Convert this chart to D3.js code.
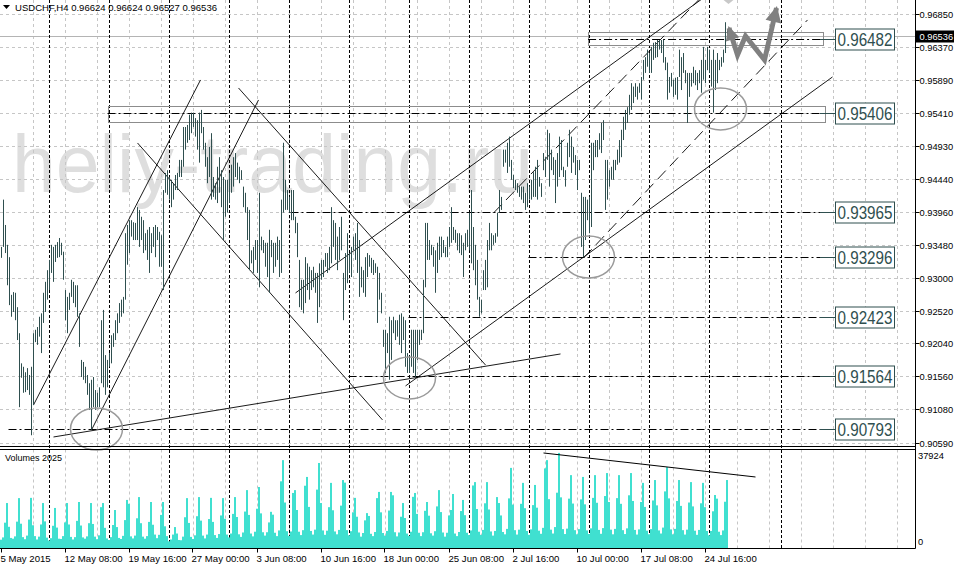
<!DOCTYPE html>
<html><head><meta charset="utf-8">
<script src="https://cdn.jsdelivr.net/npm/d3@7"></script>
<style>html,body{margin:0;padding:0;background:#fff;}svg{display:block;font-family:"Liberation Sans",Arial,sans-serif;}</style>
</head><body><svg id="c" width="954" height="568"></svg>
<script>
// ---------- DATA ----------
const symbol = "USDCHF,H4";
const lastBar = {open:0.96624, high:0.96624, low:0.96527, close:0.96536};
const bidPrice = 0.96536;
const highs = [.9345,.9414,.9377,.9348,.9330,.9275,.9279,.9278,.9257,.9219,
.9175,.9170,.9162,.9168,.9158,.9170,.9219,.9224,.9228,.9243,
.9248,.9278,.9294,.9311,.9326,.9348,.9345,.9348,.9352,.9358,
.9351,.9338,.9282,.9272,.9278,.9297,.9294,.9289,.9289,.9248,
.9180,.9177,.9170,.9158,.9146,.9151,.9155,.9136,.9132,.9140,
.9238,.9253,.9187,.9180,.9190,.9216,.9219,.9238,.9248,.9263,
.9268,.9272,.9365,.9377,.9384,.9384,.9381,.9380,.9403,.9399,
.9389,.9384,.9365,.9370,.9374,.9365,.9374,.9377,.9374,.9367,
.9362,.9428,.9453,.9457,.9447,.9443,.9438,.9450,.9453,.9472,
.9472,.9520,.9520,.9523,.9538,.9541,.9541,.9533,.9530,.9541,
.9545,.9520,.9497,.9476,.9491,.9511,.9447,.9438,.9462,.9476,
.9457,.9447,.9443,.9443,.9453,.9465,.9476,.9482,.9468,.9462,
.9457,.9433,.9424,.9403,.9399,.9340,.9345,.9355,.9355,.9424,
.9360,.9355,.9351,.9351,.9370,.9355,.9351,.9351,.9360,.9355,
.9414,.9497,.9443,.9428,.9418,.9428,.9428,.9389,.9380,.9326,
.9297,.9297,.9330,.9321,.9316,.9311,.9316,.9307,.9307,.9321,
.9326,.9326,.9336,.9336,.9345,.9403,.9384,.9380,.9360,.9374,
.9389,.9307,.9336,.9365,.9336,.9345,.9360,.9365,.9380,.9355,
.9316,.9311,.9330,.9336,.9333,.9329,.9326,.9321,.9316,.9307,
.9278,.9224,.9224,.9219,.9243,.9238,.9243,.9238,.9238,.9246,
.9248,.9243,.9238,.9190,.9184,.9224,.9224,.9224,.9224,.9224,
.9224,.9297,.9380,.9380,.9355,.9348,.9345,.9340,.9351,.9360,
.9360,.9355,.9345,.9360,.9374,.9403,.9374,.9370,.9365,.9365,
.9362,.9351,.9365,.9370,.9395,.9428,.9374,.9348,.9326,.9272,
.9268,.9311,.9326,.9355,.9380,.9365,.9362,.9365,.9395,.9428,
.9418,.9487,.9487,.9497,.9506,.9472,.9450,.9443,.9438,.9433,
.9433,.9433,.9424,.9438,.9433,.9443,.9454,.9462,.9472,.9447,
.9438,.9482,.9476,.9516,.9511,.9487,.9476,.9472,.9482,.9506,
.9501,.9462,.9457,.9497,.9516,.9506,.9491,.9479,.9472,.9472,
.9424,.9418,.9418,.9414,.9418,.9497,.9497,.9501,.9501,.9511,
.9526,.9530,.9472,.9472,.9457,.9462,.9472,.9472,.9487,.9501,
.9516,.9535,.9545,.9549,.9567,.9584,.9579,.9584,.9579,.9584,
.9593,.9618,.9622,.9633,.9628,.9637,.9643,.9644,.9647,.9647,
.9647,.9647,.9622,.9614,.9593,.9599,.9589,.9592,.9593,.9633,
.9622,.9628,.9603,.9599,.9599,.9599,.9608,.9603,.9599,.9603,
.9618,.9637,.9618,.9637,.9633,.9618,.9633,.9618,.9628,.9618,
.9622,.9633,.9673,.96624];
const lows = [.9329,.9345,.9336,.9289,.9260,.9243,.9250,.9238,.9209,.9111,
.9154,.9132,.9133,.9136,.9129,.9070,.9114,.9206,.9202,.9214,
.9190,.9234,.9250,.9268,.9282,.9307,.9294,.9323,.9329,.9330,
.9333,.9297,.9238,.9219,.9253,.9272,.9263,.9257,.9243,.9199,
.9155,.9151,.9146,.9129,.9107,.9078,.9111,.9107,.9111,.9111,
.9146,.9140,.9129,.9140,.9170,.9175,.9199,.9209,.9219,.9234,
.9243,.9248,.9268,.9319,.9336,.9360,.9355,.9355,.9355,.9345,
.9355,.9336,.9340,.9326,.9307,.9336,.9345,.9330,.9355,.9316,
.9316,.9282,.9424,.9421,.9414,.9403,.9414,.9428,.9428,.9447,
.9447,.9462,.9487,.9497,.9501,.9511,.9520,.9506,.9487,.9468,
.9511,.9487,.9462,.9438,.9447,.9414,.9418,.9414,.9409,.9424,
.9403,.9355,.9389,.9395,.9409,.9424,.9433,.9447,.9443,.9438,
.9443,.9403,.9395,.9355,.9311,.9321,.9307,.9326,.9307,.9286,
.9340,.9336,.9316,.9301,.9278,.9330,.9307,.9316,.9326,.9301,
.9307,.9395,.9399,.9399,.9395,.9384,.9384,.9365,.9330,.9257,
.9253,.9248,.9263,.9282,.9268,.9282,.9286,.9278,.9234,.9257,
.9297,.9301,.9316,.9307,.9311,.9321,.9345,.9326,.9311,.9326,
.9340,.9238,.9282,.9292,.9307,.9301,.9340,.9326,.9307,.9272,
.9286,.9278,.9272,.9301,.9316,.9307,.9304,.9307,.9234,.9268,
.9248,.9199,.9161,.9190,.9151,.9180,.9219,.9209,.9214,.9202,
.9190,.9209,.9170,.9161,.9161,.9170,.9161,.9155,.9180,.9202,
.9209,.9219,.9286,.9326,.9326,.9333,.9316,.9278,.9307,.9326,
.9330,.9336,.9330,.9330,.9345,.9351,.9355,.9351,.9340,.9336,
.9333,.9301,.9340,.9345,.9340,.9321,.9311,.9289,.9268,.9243,
.9248,.9282,.9282,.9286,.9340,.9340,.9348,.9351,.9360,.9395,
.9399,.9462,.9468,.9453,.9462,.9443,.9431,.9428,.9424,.9418,
.9414,.9409,.9399,.9403,.9414,.9414,.9418,.9418,.9414,.9433,
.9418,.9457,.9447,.9472,.9433,.9457,.9450,.9409,.9433,.9447,
.9457,.9447,.9433,.9462,.9476,.9453,.9468,.9450,.9428,.9457,
.9345,.9330,.9355,.9384,.9365,.9374,.9457,.9476,.9476,.9487,
.9482,.9501,.9399,.9414,.9433,.9443,.9443,.9457,.9465,.9468,
.9476,.9501,.9516,.9526,.9538,.9545,.9555,.9564,.9560,.9570,
.9560,.9589,.9599,.9608,.9599,.9599,.9618,.9621,.9622,.9633,
.9628,.9614,.9603,.9560,.9570,.9579,.9564,.9567,.9560,.9593,
.9574,.9599,.9584,.9526,.9564,.9579,.9584,.9581,.9574,.9584,
.9570,.9589,.9584,.9603,.9599,.9579,.9541,.9574,.9584,.9603,
.9608,.9614,.9628,.96527];
const volumes = [3200,4100,9800,17400,8200,3900, 3600,4500,10200,19300,9400,4200,
3400,4800,11000,19400,8800,4600, 3300,4400,9100,17400,10300,4000,
2900,3800,8600,15500,7900,3600, 3500,4600,9900,17400,9100,4300,
3300,4200,10500,17800,8700,4100, 3600,4500,9600,17400,9300,4400,
3400,4900,15800,17400,7800,3700, 3100,4200,8900,14700,8100,3900,
3500,4700,10800,18600,17100,4500, 3700,4800,11500,19700,9600,4400,
3600,4600,10100,17800,9000,5200, 3800,5100,12800,17800,8400,4600,
2600,3300,5200,8100,5600,3100, 3000,4400,11900,19300,9700,4300,
3500,4900,12300,19700,10600,4800, 3700,5200,11200,19400,10100,5000,
3900,5400,12600,19300,11300,5200, 4100,5600,13200,19700,12000,5300,
4300,6000,14100,22400,12800,5600, 4500,6300,15200,23600,13400,6100,
4800,6100,9900,14000,12900,5900, 4600,6800,25800,34000,17600,6500,
4700,6400,21300,22400,14700,6300, 5000,6900,24100,27500,15900,6600,
5200,7100,22600,32900,17400,6800, 5100,6700,15800,25200,14600,6400,
5300,7000,16400,26300,25300,6900, 4900,6500,13800,19400,12100,6000,
4400,5800,10700,13500,12400,5500, 4600,6200,19300,21700,13800,5800,
4800,6600,14500,21700,20400,6100, 4500,6000,12100,17400,11600,5600,
4700,6300,19800,21300,13200,5900, 4600,6100,14400,17800,12500,5700,
4800,6500,16100,22400,13900,6000, 4400,5900,12600,14700,20900,5600,
4600,6200,14300,18600,12700,5900, 5000,6800,24200,25500,15100,6300,
5100,7000,17300,25500,14900,6400, 4800,6600,19700,17400,12600,6200,
5300,7400,19200,31000,16800,6900, 5200,7100,17100,25200,15400,6600,
5100,7200,16600,24400,15600,6700, 5500,7800,30800,34000,18900,7100,
5600,8100,21400,36800,19600,7300, 5400,7500,19100,28200,17200,6900,
5300,7300,18800,27500,16900,6800, 5400,7600,19400,28200,17500,7000,
5500,7700,20100,29000,17800,7100, 5300,7400,19300,28200,17100,6900,
5400,7600,20400,29000,18200,7000, 5200,7200,17800,25200,15900,6700,
5300,7300,18400,26300,16500,6800, 5600,7900,21900,31300,19200,7200,
5300,7400,18200,26300,16300,6900, 5200,7100,17600,25500,16100,6700,
5100,7000,17300,25200,15800,6600, 4900,6600,14200,20500,19100,6300,
5000,6800,17900,26300];
const volumeMax = 37924;
const priceTicks = ["0.96850","0.96370","0.95890","0.95410","0.94930","0.94440","0.93960","0.93480","0.93000","0.92520","0.92040","0.91560","0.91080","0.90590"];
const timeLabels = ["5 May 2015","12 May 08:00","19 May 16:00","27 May 00:00","3 Jun 08:00","10 Jun 16:00","18 Jun 00:00","25 Jun 08:00","2 Jul 16:00","10 Jul 00:00","17 Jul 08:00","24 Jul 16:00"];
const timeLabelBars = [0,32,64,96,128,160,192,224,256,288,320,352];
const weekSeparatorBars = [24,54,84,114,144,174,204,234,264,294,324,354,390];
const levels = [0.96482,0.95406,0.93965,0.93296,0.92423,0.91564,0.90793];
const levelStartBars = [293.3,53,144.5,263.5,203.5,173.5,3.5];
const zoneTop = [0.96581,0.95500], zoneBottom = [0.96391,0.95274];
const zoneStartBars = [293.3,53.3], zoneEndBars = [410.8,411.8];
const trendFrom = [[16,0.91142],[45,0.90778],[118.5,0.9577],[68,0.94967],[26,0.90675],[147,0.92778],[202,0.9142]];
const trendTo   = [[99.5,0.95887],[128.5,0.95595],[242,0.91726],[190.5,0.90924],[279.5,0.91887],[352,0.97107],[415.5,0.95931]];
const dashedFrom = [[246,0.93945],[291,0.93288]];
const dashedTo   = [[349.5,0.97084],[403,0.96763]];
const volTrend = [[271,36765],[377,27477]];
const circleBars = [47.5,204,293.5,359.5];
const circlePrices = [0.90792,0.91537,0.93303,0.95464];
const forecastPath = [[363.75,0.96646],[368,0.96252],[372,0.96529],[381.5,0.96179],[387.5,0.96938]];
const watermark = "heliy-trading.ru";

// ---------- LAYOUT ----------
const svg = d3.select('#c');
const R = 915.5, mainB = 446.5, volT = 449.5, volB = 548.5;
const x = d3.scaleLinear().domain([0,457]).range([1.5,915.5]);
const y = d3.scaleLinear().domain([0.90590,0.96850]).range([442.8,14]);
const yv = d3.scaleLinear().domain([0,volumeMax]).range([548,450]);

const defs = svg.append('defs');
defs.append('clipPath').attr('id','cm').append('rect').attr('x',0).attr('y',0).attr('width',R).attr('height',mainB);
defs.append('clipPath').attr('id','cv').append('rect').attr('x',0).attr('y',volT).attr('width',R).attr('height',volB-volT);

svg.append('rect').attr('width',954).attr('height',568).attr('fill','#fff');

// watermark
svg.append('text').attr('x',12).attr('y',192).attr('font-size',82).attr('fill','#dedede')
  .attr('textLength',521).attr('lengthAdjust','spacingAndGlyphs').text(watermark);

// grid horizontal
svg.append('g').selectAll('line').data(priceTicks).join('line')
  .attr('x1',0).attr('x2',R).attr('y1',d=>Math.round(y(+d))+0.5).attr('y2',d=>Math.round(y(+d))+0.5)
  .attr('stroke','#c6c6c6').attr('stroke-dasharray','3,3');
// grid vertical
const gridBars = d3.range(16,457,16);
const gv = svg.append('g');
gridBars.forEach(b=>{
  const xx = Math.round(x(b)-0.5)+0.5;
  gv.append('line').attr('x1',xx).attr('x2',xx).attr('y1',0).attr('y2',mainB).attr('stroke','#c6c6c6').attr('stroke-dasharray','3,3');
  gv.append('line').attr('x1',xx).attr('x2',xx).attr('y1',volT).attr('y2',volB).attr('stroke','#c6c6c6').attr('stroke-dasharray','3,3');
});

// bid line
svg.append('line').attr('x1',0).attr('x2',R).attr('y1',Math.round(y(bidPrice))+0.5).attr('y2',Math.round(y(bidPrice))+0.5).attr('stroke','#b4b4b4');

// week separators
svg.append('g').selectAll('line').data(weekSeparatorBars).join('line')
  .attr('x1',d=>Math.round(x(d)-0.5)+0.5).attr('x2',d=>Math.round(x(d)-0.5)+0.5).attr('y1',0).attr('y2',volB)
  .attr('stroke','#000').attr('stroke-dasharray','3,2');

// zones
zoneTop.forEach((t,k)=>{
  svg.append('rect').attr('x',Math.round(x(zoneStartBars[k]))+0.5).attr('y',Math.round(y(t))+0.5)
    .attr('width',x(zoneEndBars[k])-x(zoneStartBars[k])).attr('height',Math.round(y(zoneBottom[k]))-Math.round(y(t)))
    .attr('fill','none').attr('stroke','#8c8c8c');
});

// level lines + labels
levels.forEach((p,k)=>{
  const yy = Math.round(y(p))+0.5;
  svg.append('line').attr('x1',x(levelStartBars[k])).attr('x2',822).attr('y1',yy).attr('y2',yy)
    .attr('stroke','#000').attr('stroke-dasharray','8,3,2,3');
  svg.append('line').attr('x1',820).attr('x2',835).attr('y1',yy).attr('y2',yy).attr('stroke','#2f4f4f');
  svg.append('rect').attr('x',835.5).attr('y',yy-10.5).attr('width',59).attr('height',21)
    .attr('fill','#fff').attr('stroke','#2f4f4f');
  svg.append('text').attr('x',837.5).attr('y',yy+6.5).attr('font-size',18).attr('fill','#2f4f4f')
    .attr('textLength',55).attr('lengthAdjust','spacingAndGlyphs').text(p.toFixed(5));
});

// trend lines
const gt = svg.append('g').attr('clip-path','url(#cm)');
trendFrom.forEach((a,k)=>{
  const b = trendTo[k];
  gt.append('line').attr('x1',x(a[0])).attr('y1',y(a[1])).attr('x2',x(b[0])).attr('y2',y(b[1])).attr('stroke','#000').attr('stroke-width',0.9);
});
dashedFrom.forEach((a,k)=>{
  const b = dashedTo[k];
  gt.append('line').attr('x1',x(a[0])).attr('y1',y(a[1])).attr('x2',x(b[0])).attr('y2',y(b[1])).attr('stroke','#000').attr('stroke-width',0.9).attr('stroke-dasharray','12,6');
});

// price bars
svg.append('g').attr('clip-path','url(#cm)').selectAll('line').data(highs).join('line')
  .attr('x1',(d,i)=>x(i)).attr('x2',(d,i)=>x(i))
  .attr('y1',d=>y(d)).attr('y2',(d,i)=>Math.max(y(lows[i]),y(d)+1))
  .attr('stroke','#2f4f4f').attr('stroke-width',1);

// ellipses
circleBars.forEach((b,k)=>{
  svg.append('ellipse').attr('cx',x(b)).attr('cy',y(circlePrices[k])).attr('rx',26).attr('ry',21)
    .attr('fill','none').attr('stroke','#9a9a9a').attr('stroke-width',1.5);
});

// forecast arrows
const fpts = forecastPath.map(d=>[x(d[0]),y(d[1])]);
const ga = svg.append('g').attr('clip-path','url(#cm)');
ga.append('path').attr('d',d3.line()(fpts)).attr('fill','none').attr('stroke','#808080').attr('stroke-width',5).attr('stroke-linejoin','miter');
function head(p,q,len,wid){
  const dx=q[0]-p[0], dy=q[1]-p[1], L=Math.hypot(dx,dy), ux=dx/L, uy=dy/L;
  const bx=q[0]-ux*len, by=q[1]-uy*len;
  return [[q[0]+ux*2,q[1]+uy*2],[bx-uy*wid,by+ux*wid],[bx+uy*wid,by-ux*wid]];
}
const n=fpts.length;
ga.append('path').attr('d',d3.line()(head(fpts[n-2],fpts[n-1],14,8))+'Z').attr('fill','#808080');
ga.append('path').attr('d',d3.line()(head(fpts[1],fpts[0],12,7))+'Z').attr('fill','#808080');
ga.append('path').attr('d',d3.line()([[x(363.5),y(0.97055)+4],[x(366),y(0.97055)],[x(363.5),y(0.97055)-4],[x(361),y(0.97055)]])+'Z').attr('fill','#c8c8c8');

// volumes
svg.append('g').attr('clip-path','url(#cv)').selectAll('rect').data(volumes).join('rect')
  .attr('x',(d,i)=>x(i)-1.5).attr('width',2).attr('y',d=>yv(d)).attr('height',d=>548.5-yv(d)).attr('fill','#40e0d0');
svg.append('line').attr('x1',x(volTrend[0][0])).attr('y1',yv(volTrend[0][1])).attr('x2',x(volTrend[1][0])).attr('y2',yv(volTrend[1][1])).attr('stroke','#000');

// frames
svg.append('line').attr('x1',0).attr('x2',R).attr('y1',mainB).attr('y2',mainB).attr('stroke','#000');
svg.append('line').attr('x1',0).attr('x2',R).attr('y1',volT).attr('y2',volT).attr('stroke','#000');
svg.append('line').attr('x1',0).attr('x2',R).attr('y1',volB).attr('y2',volB).attr('stroke','#000');
svg.append('line').attr('x1',R).attr('x2',R).attr('y1',0).attr('y2',volB).attr('stroke','#000');

// right axis labels
const ga2 = svg.append('g').attr('font-size',9.3).attr('fill','#000');
priceTicks.forEach(t=>{
  const yy = Math.round(y(+t))+0.5;
  ga2.append('line').attr('x1',R).attr('x2',R+4).attr('y1',yy).attr('y2',yy).attr('stroke','#000');
  ga2.append('text').attr('x',919.5).attr('y',yy+3.5).text(t);
});
const by = Math.round(y(bidPrice))+0.5;
svg.append('rect').attr('x',916).attr('y',by-6).attr('width',38).attr('height',12).attr('fill','#000');
svg.append('text').attr('x',919.5).attr('y',by+3.5).attr('font-size',9.3).attr('fill','#fff').text(bidPrice.toFixed(5));
svg.append('text').attr('x',918).attr('y',459).attr('font-size',9.3).text(String(volumeMax));
svg.append('text').attr('x',918).attr('y',545).attr('font-size',9.3).text('0');

// time axis
timeLabelBars.forEach((b,k)=>{
  const xx = Math.round(x(b)-1)+0.5;
  svg.append('line').attr('x1',xx).attr('x2',xx).attr('y1',volB).attr('y2',volB+4).attr('stroke','#000');
  svg.append('text').attr('x',xx-1).attr('y',562).attr('font-size',9.6).text(timeLabels[k]);
});

// header + panel title
svg.append('path').attr('d','M3,5 L10,5 L6.5,9 Z').attr('fill','#000');
svg.append('text').attr('x',15).attr('y',11).attr('font-size',9.8).attr('textLength',202).attr('lengthAdjust','spacingAndGlyphs')
  .text(symbol+'  '+[lastBar.open,lastBar.high,lastBar.low,lastBar.close].map(v=>v.toFixed(5)).join(' '));
svg.append('text').attr('x',5).attr('y',461).attr('font-size',9).text('Volumes 2025');
</script></body></html>
